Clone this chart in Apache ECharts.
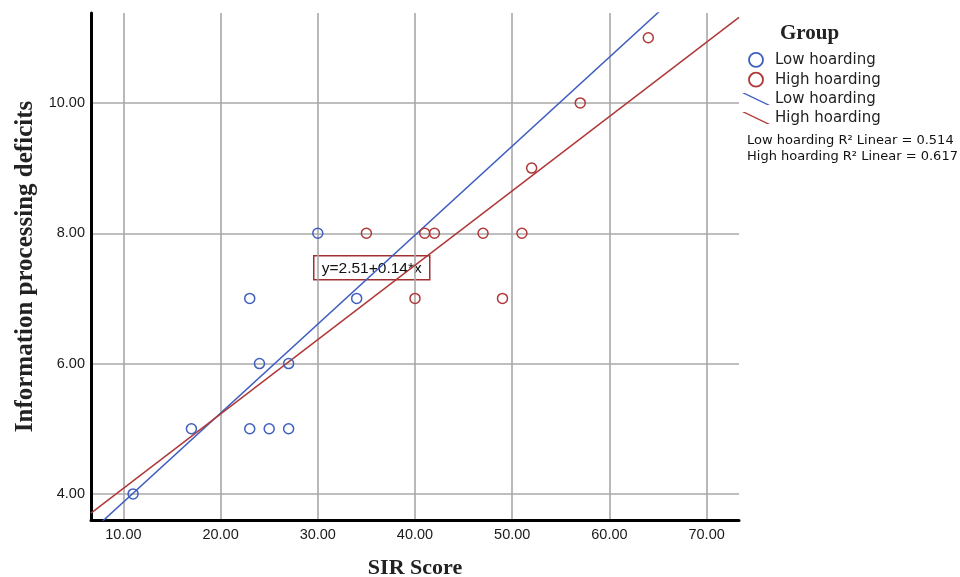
<!DOCTYPE html>
<html>
<head>
<meta charset="utf-8">
<script src="https://cdn.jsdelivr.net/npm/echarts@6/dist/echarts.min.js"></script>
<style>
  html, body { margin: 0; padding: 0; background: #fff; }
  #main { width: 960px; height: 577px; }
</style>
</head>
<body>
<div id="main"></div>
<script>
// SIR score vs information processing deficits, by group
var lowX = [11, 17, 23, 25, 27, 23, 24, 27, 30, 34];
var lowY = [4, 5, 5, 5, 5, 7, 6, 6, 8, 7];
var highX = [35, 41, 42, 47, 51, 40, 49, 52, 57, 64];
var highY = [8, 8, 8, 8, 8, 7, 7, 9, 10, 11];

var xTicks = [10, 20, 30, 40, 50, 60, 70];
var yTicks = [4, 6, 8, 10];
var xRange = [6.67, 73.33];
var yRange = [3.6, 11.38];

var BLUE = '#3f5fbf';
var RED = '#b03838';
var SANS = 'Liberation Sans, Arial, sans-serif';
var WIDE = 'DejaVu Sans, Verdana, sans-serif';
var SERIF = 'Liberation Serif, Times New Roman, serif';

//最小二乘拟合
function linFit(xs, ys) {
	var n = xs.length;
	var mx = 0, my = 0;
	for (var i = 0; i < n; i++) { mx += xs[i]; my += ys[i]; }
	mx /= n; my /= n;
	var sxy = 0, sxx = 0, syy = 0;
	for (var i = 0; i < n; i++) {
		sxy += (xs[i] - mx) * (ys[i] - my);
		sxx += (xs[i] - mx) * (xs[i] - mx);
		syy += (ys[i] - my) * (ys[i] - my);
	}
	var b = sxy / sxx;
	return { a: my - b * mx, b: b, r2: sxy * sxy / (sxx * syy) };
}

function pairs(xs, ys) {
	return xs.map(function(v, i) { return [v, ys[i]]; });
}

function fitLine(fit) {
	return xRange.map(function(x) { return [x, fit.a + fit.b * x]; });
}

var lowFit = linFit(lowX, lowY);
var highFit = linFit(highX, highY);

var chart = echarts.init(document.getElementById('main'));

var lineIcon = 'path://M0,0 L3,0 L28,12 L25,12 Z';

var option = {
	animation: false,
	grid: { left: 91, top: 13, width: 648, height: 507, containLabel: false, outerBoundsMode: 'none' },
	xAxis: {
		type: 'value',
		min: xRange[0],
		max: xRange[1],
		name: 'SIR Score',
		nameLocation: 'middle',
		nameGap: 37,
		nameTextStyle: { fontFamily: SERIF, fontSize: 22, fontWeight: 'bold', color: '#222' },
		axisLine: { show: true, onZero: false, lineStyle: { color: '#000', width: 3 } },
		axisTick: { show: false, customValues: xTicks },
		axisLabel: {
			customValues: xTicks,
			margin: 7,
			fontFamily: SANS, fontSize: 14.5, color: '#1a1a1a',
			formatter: function(v) { return v.toFixed(2); }
		},
		splitLine: { show: true, lineStyle: { color: '#a8a8a8', width: 1.6 } }
	},
	yAxis: {
		type: 'value',
		min: yRange[0],
		max: yRange[1],
		name: 'Information processing deficits',
		nameLocation: 'middle',
		nameGap: 53,
		nameTextStyle: { fontFamily: SERIF, fontSize: 25, fontWeight: 'bold', color: '#222' },
		axisLine: { show: true, onZero: false, lineStyle: { color: '#000', width: 3 } },
		axisTick: { show: false, customValues: yTicks },
		axisLabel: {
			customValues: yTicks,
			margin: 6,
			fontFamily: SANS, fontSize: 14.5, color: '#1a1a1a',
			formatter: function(v) { return v.toFixed(2); }
		},
		splitLine: { show: true, lineStyle: { color: '#a8a8a8', width: 1.6 } }
	},
	legend: {
		orient: 'vertical',
		left: 742,
		top: 52,
		itemWidth: 28,
		itemHeight: 14,
		itemGap: 4,
		padding: 0,
		selectedMode: false,
		textStyle: { fontFamily: WIDE, fontSize: 15, lineHeight: 14, color: '#222' },
		formatter: function(name) { return name.replace(' fit', ''); },
		data: [
			{ name: 'Low hoarding', icon: 'circle', itemStyle: { color: 'transparent', borderColor: BLUE, borderWidth: 1.8 } },
			{ name: 'High hoarding', icon: 'circle', itemStyle: { color: 'transparent', borderColor: RED, borderWidth: 1.8 } },
			{ name: 'Low hoarding fit', icon: lineIcon, itemStyle: { color: BLUE, borderWidth: 0 } },
			{ name: 'High hoarding fit', icon: lineIcon, itemStyle: { color: RED, borderWidth: 0 } }
		]
	},
	graphic: [
		{ type: 'text', left: 780, top: 23, style: { text: 'Group', font: 'bold 21px ' + SERIF, fill: '#222' } },
		{ type: 'text', left: 747, top: 134, style: { text: 'Low hoarding R\u00b2 Linear = ' + lowFit.r2.toFixed(3), font: '13px ' + WIDE, fill: '#111' } },
		{ type: 'text', left: 747, top: 150, style: { text: 'High hoarding R\u00b2 Linear = ' + highFit.r2.toFixed(3), font: '13px ' + WIDE, fill: '#111' } },
		{
			type: 'group', left: 313, top: 255,
			children: [
				{ type: 'rect', shape: { x: 0, y: 0, width: 116, height: 24 }, style: { fill: '#fff', stroke: '#a03030', lineWidth: 1.5 } },
				{ type: 'text', style: { x: 58, y: 12.5, text: 'y=' + lowFit.a.toFixed(2) + '+' + lowFit.b.toFixed(2) + '*x', font: '15.5px ' + SANS, fill: '#111', align: 'center', verticalAlign: 'middle' } }
			]
		}
	],
	series: [
		{
			name: 'Low hoarding fit', type: 'line', data: fitLine(lowFit), showSymbol: false, clip: true,
			lineStyle: { color: BLUE, width: 1.5 }, itemStyle: { color: BLUE }, z: 2
		},
		{
			name: 'High hoarding fit', type: 'line', data: fitLine(highFit), showSymbol: false, clip: true,
			lineStyle: { color: RED, width: 1.5 }, itemStyle: { color: RED }, z: 2
		},
		{
			name: 'Low hoarding', type: 'scatter', data: pairs(lowX, lowY), symbol: 'circle', symbolSize: 10,
			itemStyle: { color: 'transparent', borderColor: BLUE, borderWidth: 1.5, opacity: 1 }, z: 3
		},
		{
			name: 'High hoarding', type: 'scatter', data: pairs(highX, highY), symbol: 'circle', symbolSize: 10,
			itemStyle: { color: 'transparent', borderColor: RED, borderWidth: 1.5, opacity: 1 }, z: 3
		}
	]
};

chart.setOption(option);
</script>
</body>
</html>
